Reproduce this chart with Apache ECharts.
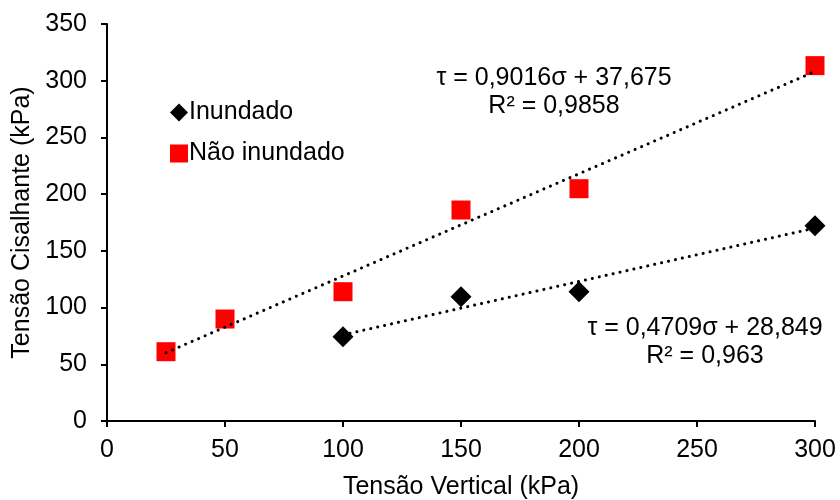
<!DOCTYPE html>
<html>
<head>
<meta charset="utf-8">
<script src="https://cdn.jsdelivr.net/npm/echarts@6/dist/echarts.min.js"></script>
<style>
  html, body { margin: 0; padding: 0; background: #fff; }
  #chart { width: 840px; height: 500px; }
</style>
</head>
<body>
<div id="chart"></div>
<script>
// Shear strength test results: vertical stress vs. shear stress (kPa)
const inundadoX = [100, 150, 200, 300];
const inundadoY = [74.3, 109.5, 114, 172.2];
const naoInundadoX = [25, 50, 100, 150, 200, 300];
const naoInundadoY = [61.1, 89.9, 114, 186, 204.8, 313.3];

// Linear trendline coefficients (τ = a·σ + b) and fit quality
const fitInundado = { a: 0.4709, b: 28.849, r2: '0,963', eq: 'τ = 0,4709σ + 28,849' };
const fitNaoInundado = { a: 0.9016, b: 37.675, r2: '0,9858', eq: 'τ = 0,9016σ + 37,675' };

const xTicks = [0, 50, 100, 150, 200, 250, 300];
const yTicks = [0, 50, 100, 150, 200, 250, 300, 350];

const FONT = '"Liberation Sans", Arial, sans-serif';
const FS = 25;

function pairs(xs, ys) { return xs.map((x, i) => [x, ys[i]]); }
function trend(fit, xs) {
  const x0 = Math.min(...xs), x1 = Math.max(...xs);
  return [[x0, fit.a * x0 + fit.b], [x1, fit.a * x1 + fit.b]];
}

const dotted = { color: '#000', width: 3, type: [0.1, 7], cap: 'round' };

function eqLabel(cx, cy, fit) {
  return {
    type: 'group', x: cx, y: cy, z: 10,
    children: [
      { type: 'text', style: { x: 0, y: -14, text: fit.eq, align: 'center', verticalAlign: 'middle', font: FS + 'px ' + FONT, fill: '#000' } },
      { type: 'text', style: { x: 0, y: 14, text: 'R² = ' + fit.r2, align: 'center', verticalAlign: 'middle', font: FS + 'px ' + FONT, fill: '#000' } }
    ]
  };
}

const chart = echarts.init(document.getElementById('chart'), null, { renderer: 'canvas' });
chart.setOption({
  animation: false,
  backgroundColor: '#fff',
  textStyle: { fontFamily: FONT },
  grid: { left: 107, right: 25, top: 24, bottom: 79, containLabel: false, outerBoundsMode: 'none' },
  xAxis: {
    type: 'value', min: xTicks[0], max: xTicks[xTicks.length - 1], interval: 50,
    name: 'Tensão Vertical (kPa)', nameLocation: 'middle', nameGap: 54,
    nameTextStyle: { color: '#000', fontSize: FS, fontFamily: FONT },
    axisLine: { show: true, onZero: false, lineStyle: { color: '#000', width: 2 } },
    axisTick: { show: true, inside: false, length: 6, lineStyle: { color: '#000', width: 2 } },
    axisLabel: { color: '#000', fontSize: FS, fontFamily: FONT, margin: 17 },
    splitLine: { show: false }
  },
  yAxis: {
    type: 'value', min: yTicks[0], max: yTicks[yTicks.length - 1], interval: 50,
    name: 'Tensão Cisalhante (kPa)', nameLocation: 'middle', nameGap: 69, nameRotate: 90,
    nameTextStyle: { color: '#000', fontSize: FS, fontFamily: FONT },
    axisLine: { show: true, onZero: false, lineStyle: { color: '#000', width: 2 } },
    axisTick: { show: true, inside: false, length: 6, lineStyle: { color: '#000', width: 2 } },
    axisLabel: { color: '#000', fontSize: FS, fontFamily: FONT, margin: 20 },
    splitLine: { show: false }
  },
  legend: {
    data: ['Inundado', 'Não inundado'],
    orient: 'vertical', left: 165, top: 95,
    itemWidth: 18, itemHeight: 18, itemGap: 16,
    textStyle: { color: '#000', fontSize: FS, fontFamily: FONT, padding: [0, 0, 0, -4] }
  },
  series: [
    {
      name: 'Inundado', type: 'scatter', symbol: 'diamond', symbolSize: 21,
      itemStyle: { color: '#000', opacity: 1 }, z: 2,
      data: pairs(inundadoX, inundadoY)
    },
    {
      name: 'Não inundado', type: 'scatter', symbol: 'rect', symbolSize: 19,
      itemStyle: { color: '#ff0000', opacity: 1 }, z: 2,
      data: pairs(naoInundadoX, naoInundadoY)
    },
    {
      name: 'Linear (Inundado)', type: 'line', showSymbol: false, symbol: 'none',
      lineStyle: dotted, z: 3, silent: true,
      data: trend(fitInundado, inundadoX)
    },
    {
      name: 'Linear (Não inundado)', type: 'line', showSymbol: false, symbol: 'none',
      lineStyle: dotted, z: 3, silent: true,
      data: trend(fitNaoInundado, naoInundadoX)
    }
  ],
  graphic: [
    eqLabel(554, 92, fitNaoInundado),
    eqLabel(705, 342, fitInundado)
  ]
});
</script>
</body>
</html>
